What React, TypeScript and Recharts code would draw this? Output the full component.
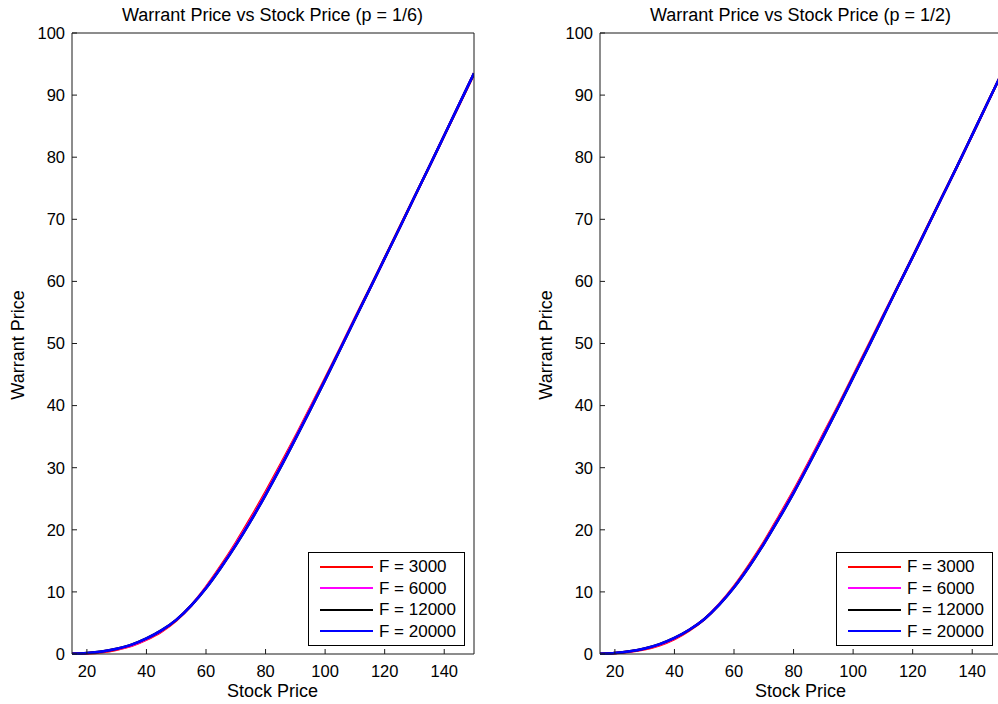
import React from "react";
import { LineChart, Line, XAxis, YAxis, Legend } from "recharts";

const FONT = '"Liberation Sans", Arial, Helvetica, sans-serif';

// stock price grid (x)
const stockPrice = [15, 20, 25, 30, 35, 40, 45, 50, 55, 60, 65, 70, 75, 80, 85, 90, 95, 100, 105, 110, 115, 120, 125, 130, 135, 140, 145, 150];
const xTicks = [20, 40, 60, 80, 100, 120, 140];
const yTicks = [0, 10, 20, 30, 40, 50, 60, 70, 80, 90, 100];

const seriesKeys = ["f3000", "f6000", "f12000", "f20000"];
const seriesNames = ["F = 3000", "F = 6000", "F = 12000", "F = 20000"];
const seriesColors = ["#ff0000", "#ff00ff", "#000000", "#0000ff"];

// p = 1/6
const p6F3000 = [0.02, 0.1, 0.3, 0.7, 1.3, 2.3, 3.6, 5.4, 7.8, 10.8, 14.2, 17.9, 21.9, 26.1, 30.5, 35.0, 39.7, 44.4, 49.2, 54.1, 58.9, 63.8, 68.7, 73.6, 78.5, 83.5, 88.4, 93.4];
const p6F6000 = [0.03, 0.13, 0.36, 0.8, 1.4, 2.4, 3.7, 5.5, 7.8, 10.7, 14.0, 17.7, 21.6, 25.8, 30.2, 34.8, 39.5, 44.2, 49.1, 54.0, 58.8, 63.7, 68.6, 73.6, 78.5, 83.5, 88.5, 93.5];
const p6F12000 = [0.03, 0.15, 0.4, 0.85, 1.5, 2.5, 3.8, 5.5, 7.8, 10.6, 13.9, 17.5, 21.4, 25.6, 30.0, 34.6, 39.3, 44.1, 49.0, 53.9, 58.8, 63.7, 68.6, 73.6, 78.5, 83.5, 88.5, 93.5];
const p6F20000 = [0.03, 0.15, 0.4, 0.85, 1.5, 2.5, 3.8, 5.5, 7.8, 10.6, 13.9, 17.5, 21.4, 25.6, 30.0, 34.6, 39.3, 44.1, 49.0, 53.9, 58.8, 63.7, 68.6, 73.6, 78.5, 83.5, 88.5, 93.5];

// p = 1/2
const p2F3000 = [0.03, 0.12, 0.35, 0.75, 1.4, 2.4, 3.8, 5.6, 8.0, 10.9, 14.3, 18.0, 22.1, 26.3, 30.8, 35.4, 40.0, 44.8, 49.6, 54.4, 59.2, 64.0, 68.9, 73.8, 78.6, 83.6, 88.6, 93.6];
const p2F6000 = [0.04, 0.15, 0.4, 0.85, 1.5, 2.5, 3.9, 5.6, 8.0, 10.8, 14.1, 17.8, 21.9, 26.1, 30.6, 35.2, 39.8, 44.6, 49.4, 54.3, 59.1, 63.9, 68.8, 73.7, 78.6, 83.6, 88.6, 93.6];
const p2F12000 = [0.04, 0.17, 0.45, 0.9, 1.6, 2.6, 3.9, 5.6, 7.9, 10.7, 14.0, 17.7, 21.7, 25.9, 30.4, 35.0, 39.7, 44.5, 49.3, 54.2, 59.1, 63.9, 68.8, 73.7, 78.6, 83.6, 88.6, 93.6];
const p2F20000 = [0.04, 0.17, 0.45, 0.9, 1.6, 2.6, 3.9, 5.6, 7.9, 10.7, 14.0, 17.7, 21.7, 25.9, 30.4, 35.0, 39.7, 44.5, 49.3, 54.2, 59.1, 63.9, 68.8, 73.7, 78.6, 83.6, 88.6, 93.6];

const buildRows = (cols: number[][]) =>
  stockPrice.map((s, i) => {
    const row: Record<string, number> = { s };
    seriesKeys.forEach((k, j) => (row[k] = cols[j][i]));
    return row;
  });

const panelP6 = buildRows([p6F3000, p6F6000, p6F12000, p6F20000]);
const panelP2 = buildRows([p2F3000, p2F6000, p2F12000, p2F20000]);

const axisColor = "#1a1a1a";
const tickStyle = { fontSize: 16.5, fontFamily: FONT, fill: "#000" };

const LegendBox = () => (
  <div
    style={{
      width: 157,
      height: 94,
      boxSizing: "border-box",
      border: "1px solid #000",
      background: "#fff",
      paddingTop: 3,
      fontFamily: FONT,
      fontSize: 17,
      color: "#000",
    }}
  >
    {seriesNames.map((name, i) => (
      <div key={name} style={{ display: "flex", alignItems: "center", height: 21.5 }}>
        <div style={{ marginLeft: 11, width: 53, height: 2, background: seriesColors[i] }} />
        <span style={{ marginLeft: 6, lineHeight: "21px" }}>{name}</span>
      </div>
    ))}
  </div>
);

function Panel({ left, title, data }: { left: number; title: string; data: Record<string, number>[] }) {
  return (
    <div style={{ position: "absolute", left, top: 0, width: 500, height: 704 }}>
      <div
        style={{
          position: "absolute",
          left: 0,
          width: 545,
          top: 5,
          textAlign: "center",
          fontFamily: FONT,
          fontSize: 18,
          lineHeight: "20px",
          color: "#000",
        }}
      >
        {title}
      </div>
      <div
        style={{
          position: "absolute",
          left: 18,
          top: 345,
          transform: "translate(-50%, -50%) rotate(-90deg)",
          whiteSpace: "nowrap",
          fontFamily: FONT,
          fontSize: 18,
          color: "#000",
        }}
      >
        Warrant Price
      </div>
      <div
        style={{
          position: "absolute",
          left: 0,
          width: 545,
          top: 681,
          textAlign: "center",
          fontFamily: FONT,
          fontSize: 18,
          lineHeight: "20px",
          color: "#000",
        }}
      >
        Stock Price
      </div>
      <LineChart width={500} height={704} data={data} margin={{ top: 32, right: 25, bottom: 20, left: 32 }}>
        <XAxis
          dataKey="s"
          type="number"
          domain={[15, 150]}
          ticks={xTicks}
          allowDataOverflow
          height={30}
          tickSize={-5}
          tickMargin={16}
          stroke={axisColor}
          tick={tickStyle}
        />
        <XAxis
          xAxisId="top"
          orientation="top"
          dataKey="s"
          type="number"
          domain={[15, 150]}
          ticks={xTicks}
          height={1}
          tickSize={-5}
          tick={false}
          stroke={axisColor}
        />
        <YAxis
          type="number"
          domain={[0, 100]}
          ticks={yTicks}
          width={40}
          tickSize={-5}
          tickMargin={12}
          stroke={axisColor}
          tick={tickStyle}
        />
        <YAxis
          yAxisId="right"
          orientation="right"
          type="number"
          domain={[0, 100]}
          ticks={yTicks}
          width={1}
          tickSize={-5}
          tick={false}
          stroke={axisColor}
        />
        {seriesKeys.map((k, i) => (
          <Line
            key={k}
            type="monotone"
            dataKey={k}
            name={seriesNames[i]}
            stroke={seriesColors[i]}
            strokeWidth={2.5}
            dot={false}
            isAnimationActive={false}
          />
        ))}
        <Legend
          layout="vertical"
          align="center"
          verticalAlign="middle"
          content={<LegendBox />}
          wrapperStyle={{ left: 308, top: 552, width: 157, height: 94 }}
        />
      </LineChart>
    </div>
  );
}

export default function App() {
  return (
    <div style={{ position: "absolute", left: 0, top: 0, width: 998, height: 704, overflow: "hidden", background: "#fff" }}>
      <Panel left={0} title="Warrant Price vs Stock Price (p = 1/6)" data={panelP6} />
      <Panel left={528} title="Warrant Price vs Stock Price (p = 1/2)" data={panelP2} />
    </div>
  );
}
